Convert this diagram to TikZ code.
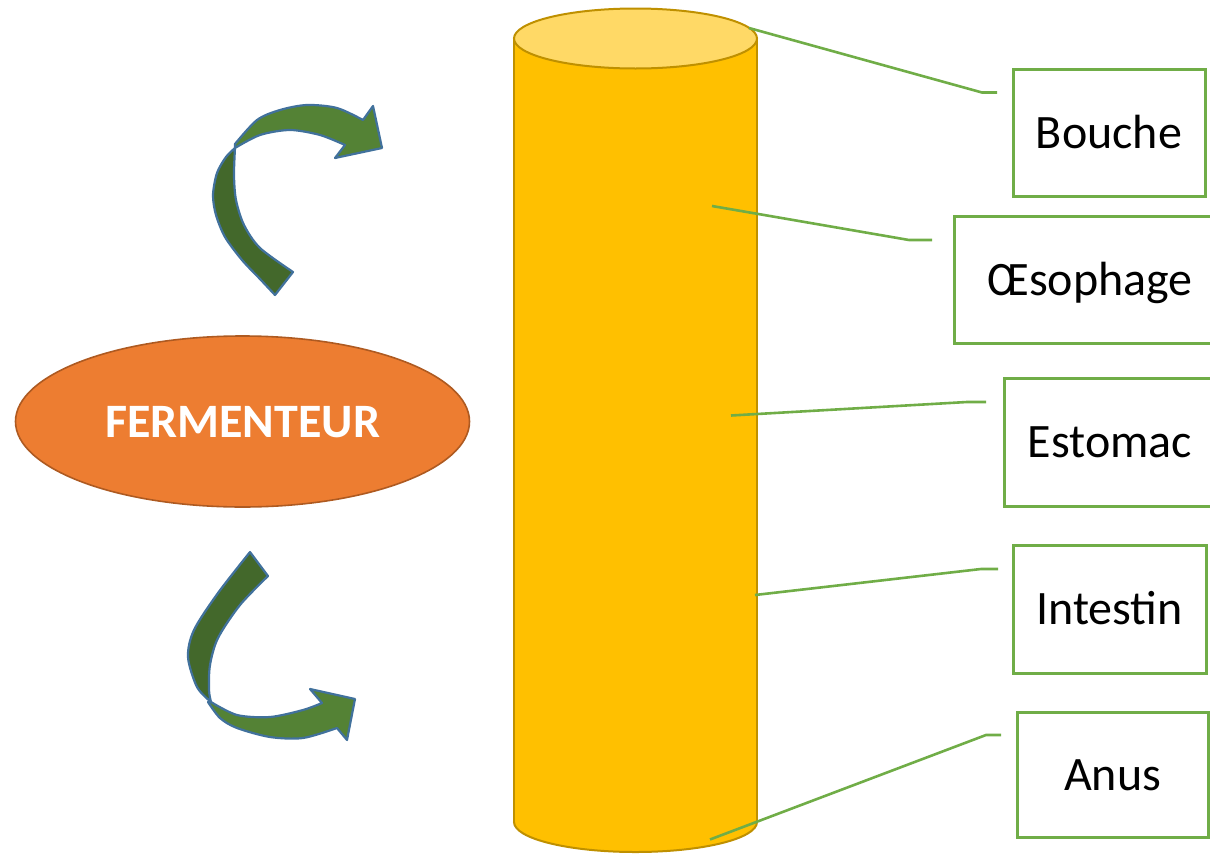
\documentclass[tikz,border=0pt]{standalone}
\usepackage{fontspec}
\setmainfont{Carlito}
\usetikzlibrary{shapes.geometric}
\definecolor{bodyc}{HTML}{FFC000}
\definecolor{topc}{HTML}{FFD966}
\definecolor{cylline}{HTML}{BF9000}
\definecolor{ferm}{HTML}{ED7D31}
\definecolor{fermline}{HTML}{AE5A21}
\definecolor{leaf}{HTML}{70AD47}
\definecolor{darkg}{HTML}{43682B}
\definecolor{lightg}{HTML}{548235}
\definecolor{arrline}{HTML}{41719C}
\tikzset{
  labelbox/.style={draw=leaf, line width=3pt, fill=white, inner sep=0pt,
    font=\fontsize{48}{52}\selectfont, text height=31pt, text depth=0pt},
  leader/.style={draw=leaf, line width=2.6pt},
  band/.style={line width=2.2pt, draw=arrline, line join=round},
}
\begin{document}
\begin{tikzpicture}[x=1pt,y=-1pt]
\useasboundingbox (0,0) rectangle (1210,854);
% cylinder
\fill[bodyc, draw=cylline, line width=2pt] (635.5,822) ellipse [x radius=121.5, y radius=30];
\fill[bodyc] (514,40) rectangle (757,822);
\draw[cylline, line width=2pt] (514,40) -- (514,822) (757,40) -- (757,822);
\filldraw[fill=topc, draw=cylline, line width=2pt] (635.5,38.5) ellipse [x radius=121.5, y radius=30];
% fermenteur
\node[ellipse, fill=ferm, draw=fermline, line width=1.6pt, minimum width=454pt, minimum height=171pt, inner sep=0pt,
  text=white, font=\bfseries\fontsize{48}{52}\selectfont, text height=31pt, text depth=0pt] (ferm) at (242.5,421.5) {FERMENTEUR};
% top curved arrow
\path[band, fill=darkg] (275,295) -- (293,272)
  -- plot[smooth] coordinates {(293,272) (260,248) (244,225) (236,200) (234,175) (235,148)}
  -- plot[smooth] coordinates {(235,148) (226,157) (217,173) (213,195) (216,215) (225,237) (242,260) (260,279) (275,295)}
  -- cycle;
\path[band, fill=lightg] plot[smooth] coordinates {(235,144) (257,120) (280,110) (307,105) (337,108) (363,120)}
  -- (373,106) -- (382,148) -- (335,158) -- (345,145)
  -- plot[smooth] coordinates {(345,145) (320,135) (290,130) (260,135) (235,148)}
  -- cycle;
% bottom curved arrow
\path[band, fill=darkg] (250,552) -- (268,576)
  -- plot[smooth] coordinates {(268,576) (240,605) (218,638) (210,665) (209,690) (211,702)}
  -- plot[smooth] coordinates {(211,702) (197,687) (188,657) (194,630) (218,593) (250,552)}
  -- cycle;
\path[band, fill=lightg] plot[smooth] coordinates {(208,702) (220,718) (237,728) (270,737) (303,738) (337,728)}
  -- (347,740) -- (355,699) -- (310,689) -- (322,703)
  -- plot[smooth] coordinates {(322,703) (303,710) (270,717) (237,715) (211,702)}
  -- cycle;
% label boxes
\node[labelbox, minimum width=192pt, minimum height=127pt] (bouche) at (1109,132.5) {Bouche};
\node[labelbox, minimum width=272pt, minimum height=127pt] (oeso) at (1090,279.5) {Œsophage};
\node[labelbox, minimum width=212pt, minimum height=128pt] (estomac) at (1110,442) {Estomac};
\node[labelbox, minimum width=193pt, minimum height=128pt] (intestin) at (1109.5,609) {Intestin};
\node[labelbox, minimum width=191pt, minimum height=125pt] (anus) at (1112.5,774.5) {Anus};
% leader lines
\coordinate (b0) at (749,28); \coordinate (b1) at (982,92.5); \coordinate (b2) at (997,92.5);
\coordinate (o0) at (712,206); \coordinate (o1) at (909,240); \coordinate (o2) at (932,240);
\coordinate (e0) at (731,415.5); \coordinate (e1) at (967,402); \coordinate (e2) at (986,402);
\coordinate (i0) at (755,595); \coordinate (i1) at (981,569); \coordinate (i2) at (998,569);
\coordinate (a0) at (710,839.5); \coordinate (a1) at (986,735); \coordinate (a2) at (1001,735);
\draw[leader] (b0) -- (b1) -- (b2);
\draw[leader] (o0) -- (o1) -- (o2);
\draw[leader] (e0) -- (e1) -- (e2);
\draw[leader] (i0) -- (i1) -- (i2);
\draw[leader] (a0) -- (a1) -- (a2);
\end{tikzpicture}
\end{document}
